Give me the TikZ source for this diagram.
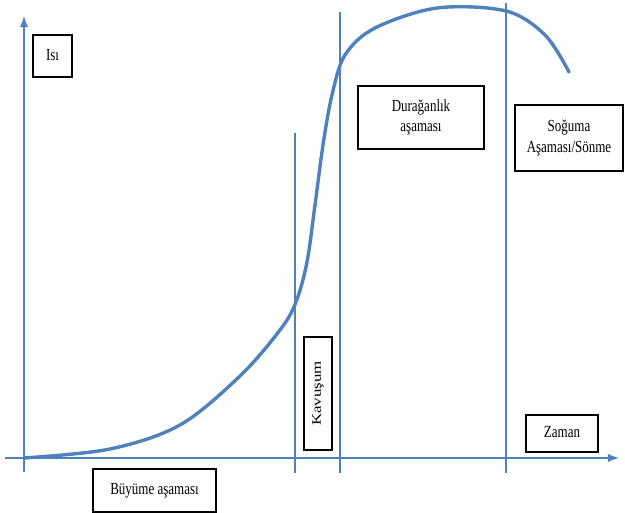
\documentclass[tikz,border=0pt]{standalone}
\usepackage{fontspec}
\setmainfont{Liberation Serif}
\usepackage{tikz}
\usetikzlibrary{calc, arrows}
\definecolor{phaseblue}{RGB}{79,129,189}
\tikzstyle{lbl}=[inner sep=0pt, draw, shape=rectangle, line width=1.6pt, fill=white, font=\fontsize{13}{15.5}\selectfont]
\tikzstyle{axis}=[line width=2.8pt, phaseblue]
\tikzstyle{phase}=[line width=2.4pt, phaseblue]
\tikzset{>=latex}
\newcommand{\tall}[1]{\scalebox{1}[1.3]{\begin{tabular}{@{}c@{}}#1\end{tabular}}}

\begin{document}
\begin{tikzpicture}[x=1pt, y=-1pt]
\useasboundingbox (0,0) rectangle (625,513);
\coordinate (yb) at (24,472);
\coordinate (yt) at (24,16);
\coordinate (xl) at (5,458);
\coordinate (xr) at (619,458);
\coordinate (k1t) at (295,133);
\coordinate (k1b) at (295,473);
\coordinate (k2t) at (340,12);
\coordinate (k2b) at (340,473);
\coordinate (k3t) at (506,3);
\coordinate (k3b) at (506,473);
%
\draw[axis, ->] (yb) -- (yt);
\draw[axis, ->] (xl) -- (xr);
\draw[phase] (k1b) -- (k1t);
\draw[phase] (k2b) -- (k2t);
\draw[phase] (k3b) -- (k3t);
%
\draw[phaseblue, line width=3.4pt, line cap=round] plot[smooth, tension=0.55] coordinates {(24,458) (110,449) (180,425) (240,376) (280,330) (296,302) (307,262) (315,205) (323,145) (332,95) (345,55) (375,28) (437,8) (506,11) (545,35) (569,72)};
%
\node[lbl, minimum width=39pt, minimum height=42pt] (isi) at (52.5,56) {\tall{Isı}};
\node[lbl, minimum width=126pt, minimum height=63pt] (durag) at (421,117.5) {\tall{Durağanlık\\aşaması}};
\node[lbl, minimum width=108pt, minimum height=66pt] (soguma) at (569,138) {\tall{Soğuma\\Aşaması/Sönme}};
\node[lbl, minimum width=113pt, minimum height=28pt, rotate=90] (kavus) at (318,393.5) {\scalebox{1.3}[1]{Kavuşum}};
\node[lbl, minimum width=72pt, minimum height=37pt] (zaman) at (562,433.5) {\tall{Zaman}};
\node[lbl, minimum width=123pt, minimum height=43pt] (buyume) at (154.5,490.5) {\tall{Büyüme aşaması}};
\end{tikzpicture}
\end{document}
